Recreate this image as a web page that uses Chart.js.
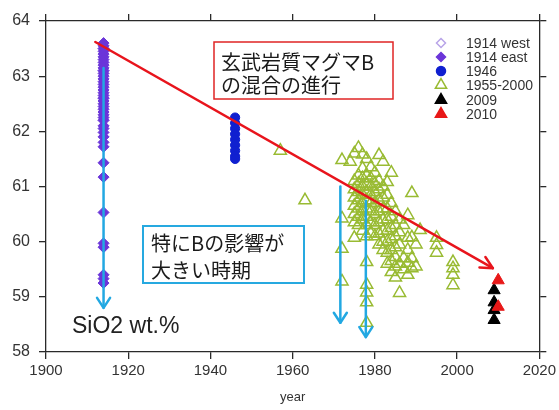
<!DOCTYPE html>
<html>
<head>
<meta charset="utf-8">
<script src="https://cdn.jsdelivr.net/npm/chart.js@4.4.1/dist/chart.umd.min.js"></script>
<style>
  html, body { margin: 0; padding: 0; background: #fff; }
  #wrap { width: 559px; height: 410px; }
</style>
</head>
<body>
<div id="wrap"><canvas id="sio2Chart"></canvas></div>
<script>
// SiO2 wt.% by eruption year
const west1914 = [63.5, 63.1, 62.6, 62.2];
const east1914 = [63.6, 63.55, 63.5, 63.45, 63.4, 63.35, 63.3, 63.25, 63.2, 63.15, 63.1, 63.05,
  63.0, 62.95, 62.9, 62.85, 62.8, 62.75, 62.7, 62.65, 62.6, 62.55, 62.5, 62.45, 62.4, 62.35,
  62.3, 62.25, 62.2, 62.1, 62.05, 61.98, 61.9, 61.8, 61.72, 61.43, 61.17, 60.53, 59.97, 59.9,
  59.4, 59.33, 59.25];
const sio2_1946 = [62.25, 62.15, 62.05, 61.95, 61.85, 61.75, 61.65, 61.55, 61.5];
const pts1955_2000 = [
  [1957, 61.65], [1963, 60.75],
  [1972, 61.48], [1972, 60.42], [1972, 59.87], [1972, 59.28], [1975, 60.07],
  [1978, 59.63], [1978, 59.22], [1978, 59.08], [1978, 58.9], [1978, 58.53],
  [1974, 61.45], [1975, 61.6], [1976, 61.7], [1977, 61.58], [1978, 61.5], [1979, 61.35],
  [1981, 61.57], [1982, 61.45], [1984, 61.25], [1983, 61.08], [1977, 61.33], [1976, 61.2],
  [1975, 61.1], [1975, 60.95], [1975, 60.8], [1975, 60.65], [1975, 60.5], [1975, 60.35],
  [1976, 61.05], [1976, 60.9], [1976, 60.75], [1976, 60.6], [1976, 60.45], [1976, 60.3],
  [1977, 61.15], [1977, 61.0], [1977, 60.85], [1977, 60.7], [1977, 60.55], [1977, 60.4], [1977, 60.2],
  [1978, 61.2], [1978, 61.05], [1978, 60.9], [1978, 60.75], [1978, 60.6], [1978, 60.45], [1978, 60.3], [1978, 60.1],
  [1979, 61.15], [1979, 61.0], [1979, 60.85], [1979, 60.7], [1979, 60.55], [1979, 60.35], [1979, 60.15],
  [1980, 61.25], [1980, 61.05], [1980, 60.9], [1980, 60.7], [1980, 60.5], [1980, 60.3], [1980, 60.1],
  [1981, 61.1], [1981, 60.95], [1981, 60.75], [1981, 60.55], [1981, 60.35], [1981, 60.15], [1981, 59.95],
  [1982, 61.0], [1982, 60.8], [1982, 60.6], [1982, 60.4], [1982, 60.2], [1982, 60.0], [1982, 59.85],
  [1983, 60.85], [1983, 60.6], [1983, 60.4], [1983, 60.2], [1983, 60.0], [1983, 59.8], [1983, 59.6],
  [1984, 60.7], [1984, 60.45], [1984, 60.25], [1984, 60.05], [1984, 59.85], [1984, 59.65], [1984, 59.45],
  [1985, 60.55], [1985, 60.3], [1985, 60.1], [1985, 59.9], [1985, 59.72], [1985, 59.55], [1985, 59.35],
  [1986, 60.4], [1986, 60.17], [1986, 59.95], [1986, 59.6], [1986, 59.07],
  [1987, 60.3], [1987, 59.7], [1987, 59.5],
  [1988, 60.48], [1988, 60.07], [1988, 59.85], [1988, 59.62], [1988, 59.4],
  [1989, 60.88], [1989, 60.08], [1989, 59.7], [1989, 59.52],
  [1990, 59.95], [1990, 59.55], [1991, 60.21],
  [1995, 60.07], [1995, 59.94], [1995, 59.8],
  [1999, 59.63], [1999, 59.52], [1999, 59.4], [1999, 59.21]
];
const sio2_2009 = [59.12, 58.9, 58.76, 58.58];
const sio2_2010 = [59.3, 58.82];

const xTicks = [1900, 1920, 1940, 1960, 1980, 2000, 2020];
const yTicks = [58, 59, 60, 61, 62, 63, 64];

// arrows in data units: [start, end]
const mixingArrow = [[1912, 63.62], [2008.7, 59.52]];
const impactArrows = [
  [[1914, 63.15], [1914, 58.8]],
  [[1971.6, 61.0], [1971.6, 58.53]],
  [[1977.8, 60.74], [1977.8, 58.27]]
];

const legendItems = [
  { label: '1914 west', style: 'diamond', fill: null, stroke: '#b8a4e8', r: 4.5 },
  { label: '1914 east', style: 'diamond', fill: '#6b35d9', stroke: '#6b35d9', r: 4.5 },
  { label: '1946', style: 'circle', fill: '#1020d0', stroke: '#1020d0', r: 4.5 },
  { label: '1955-2000', style: 'triangle', fill: null, stroke: '#99bb33', r: 6.5 },
  { label: '2009', style: 'triangle', fill: '#000', stroke: '#000', r: 6.5 },
  { label: '2010', style: 'triangle', fill: '#e81818', stroke: '#e81818', r: 6.5 }
];

const axisColor = '#2a2a2a';
const textFont = '"Liberation Sans", Arial, sans-serif';
const cjkFont = '"Noto Sans CJK JP", sans-serif';

function at(year, values) {
  return values.map(v => ({ x: year, y: v }));
}

function drawMarker(ctx, item, x, y) {
  const r = item.r;
  ctx.beginPath();
  if (item.style === 'diamond') {
    ctx.moveTo(x, y - r); ctx.lineTo(x + r, y); ctx.lineTo(x, y + r); ctx.lineTo(x - r, y);
    ctx.closePath();
  } else if (item.style === 'circle') {
    ctx.arc(x, y, r, 0, Math.PI * 2);
  } else {
    ctx.moveTo(x, y - r);
    ctx.lineTo(x + Math.sin(2 * Math.PI / 3) * r, y + r / 2);
    ctx.lineTo(x - Math.sin(2 * Math.PI / 3) * r, y + r / 2);
    ctx.closePath();
  }
  if (item.fill) { ctx.fillStyle = item.fill; ctx.fill(); }
  ctx.lineWidth = 1.5;
  ctx.strokeStyle = item.stroke;
  ctx.stroke();
}

function drawArrow(ctx, x1, y1, x2, y2, color, width, headLen, headHalf) {
  ctx.save();
  ctx.strokeStyle = color;
  ctx.lineWidth = width;
  ctx.lineCap = 'round';
  ctx.lineJoin = 'round';
  ctx.beginPath();
  ctx.moveTo(x1, y1);
  ctx.lineTo(x2, y2);
  ctx.stroke();
  const a = Math.atan2(y2 - y1, x2 - x1);
  const bx = x2 - headLen * Math.cos(a), by = y2 - headLen * Math.sin(a);
  ctx.beginPath();
  ctx.moveTo(bx + headHalf * Math.sin(a), by - headHalf * Math.cos(a));
  ctx.lineTo(x2, y2);
  ctx.lineTo(bx - headHalf * Math.sin(a), by + headHalf * Math.cos(a));
  ctx.stroke();
  ctx.restore();
}

function textBox(ctx, lines, left, top, w, h, color, lw, tx, ty, lineGap) {
  ctx.save();
  ctx.fillStyle = '#fff';
  ctx.fillRect(left, top, w, h);
  ctx.strokeStyle = color;
  ctx.lineWidth = lw;
  ctx.strokeRect(left, top, w, h);
  ctx.fillStyle = '#1a1a1a';
  ctx.font = '20px ' + cjkFont;
  ctx.textBaseline = 'middle';
  ctx.textAlign = 'left';
  lines.forEach((t, i) => ctx.fillText(t, tx, ty + i * lineGap));
  ctx.restore();
}

const overlayPlugin = {
  id: 'overlay',
  afterDatasetsDraw(chart) {
    const ctx = chart.ctx;
    const xs = chart.scales.x, ys = chart.scales.y;
    const px = p => [xs.getPixelForValue(p[0]), ys.getPixelForValue(p[1])];
    impactArrows.forEach(a => {
      const s = px(a[0]), e = px(a[1]);
      drawArrow(ctx, s[0], s[1], e[0], e[1], '#22a8e2', 2.5, 10, 6.5);
    });
    const s = px(mixingArrow[0]), e = px(mixingArrow[1]);
    drawArrow(ctx, s[0], s[1], e[0], e[1], '#e8141c', 2.5, 12, 6);
  },
  afterDraw(chart) {
    const ctx = chart.ctx;
    textBox(ctx, ['玄武岩質マグマB', 'の混合の進行'], 214, 42, 179, 57, '#e02424', 1.5, 221, 62, 23);
    textBox(ctx, ['特にBの影響が', '大きい時期'], 143, 226, 161, 57, '#26a9e0', 2, 151, 243, 27);

    ctx.save();
    ctx.fillStyle = '#222';
    ctx.font = '23px ' + textFont;
    ctx.textBaseline = 'middle';
    ctx.fillText('SiO2 wt.%', 72, 327);

    const rowY = [43, 57, 71, 85, 100, 114];
    ctx.font = '14px ' + textFont;
    legendItems.forEach((item, i) => {
      drawMarker(ctx, item, 441, rowY[i]);
      ctx.fillStyle = '#333';
      ctx.fillText(item.label, 466, rowY[i] + 1);
    });
    ctx.restore();
  }
};

const tickGrid = { display: true, drawOnChartArea: false, drawTicks: true, tickLength: 7, color: axisColor, lineWidth: 1.3 };
const axisBorder = { display: true, color: axisColor, width: 1.3 };

new Chart(document.getElementById('sio2Chart'), {
  type: 'scatter',
  data: {
    datasets: [
      { label: '1914 west', data: at(1914, west1914), pointStyle: 'rectRot', pointRadius: 5.5,
        backgroundColor: 'rgba(0,0,0,0)', borderColor: '#b8a4e8', borderWidth: 1.2, order: 6 },
      { label: '1914 east', data: at(1914, east1914), pointStyle: 'rectRot', pointRadius: 5.5,
        backgroundColor: '#6b35d9', borderColor: '#6b35d9', borderWidth: 1, order: 5 },
      { label: '1946', data: at(1946, sio2_1946), pointStyle: 'circle', pointRadius: 4.6,
        backgroundColor: '#1020d0', borderColor: '#1020d0', borderWidth: 1, order: 4 },
      { label: '1955-2000', data: pts1955_2000.map(p => ({ x: p[0], y: p[1] })), pointStyle: 'triangle',
        pointRadius: 7, backgroundColor: 'rgba(0,0,0,0)', borderColor: '#99bb33', borderWidth: 1.5, order: 3 },
      { label: '2009', data: at(2009, sio2_2009), pointStyle: 'triangle', pointRadius: 7,
        backgroundColor: '#000', borderColor: '#000', borderWidth: 1, order: 2 },
      { label: '2010', data: at(2010, sio2_2010), pointStyle: 'triangle', pointRadius: 7,
        backgroundColor: '#e81818', borderColor: '#e81818', borderWidth: 1, order: 1 }
    ]
  },
  options: {
    responsive: true,
    maintainAspectRatio: false,
    animation: false,
    layout: { padding: 0 },
    plugins: { legend: { display: false }, tooltip: { enabled: false } },
    scales: {
      x: {
        type: 'linear', position: 'bottom', min: 1900, max: 2020,
        afterBuildTicks: s => { s.ticks = xTicks.map(v => ({ value: v })); },
        ticks: { color: '#333', font: { family: textFont, size: 15 }, padding: 3, callback: v => String(v) },
        grid: tickGrid, border: axisBorder,
        title: { display: true, text: 'year', color: '#333', font: { family: textFont, size: 13 }, padding: { top: 5, bottom: 5 } },
        afterFit: s => { s.height = 58; }
      },
      x2: {
        type: 'linear', position: 'top', min: 1900, max: 2020,
        afterBuildTicks: s => { s.ticks = xTicks.map(v => ({ value: v })); },
        ticks: { display: false },
        grid: tickGrid, border: axisBorder,
        afterFit: s => { s.height = 21; }
      },
      y: {
        type: 'linear', position: 'left', min: 58, max: 64,
        afterBuildTicks: s => { s.ticks = yTicks.map(v => ({ value: v })); },
        ticks: { color: '#333', font: { family: textFont, size: 16 }, padding: 9, callback: v => String(v) },
        grid: tickGrid, border: axisBorder,
        afterFit: s => { s.width = 46; }
      },
      y2: {
        type: 'linear', position: 'right', min: 58, max: 64,
        afterBuildTicks: s => { s.ticks = yTicks.map(v => ({ value: v })); },
        ticks: { display: false },
        grid: tickGrid, border: axisBorder,
        afterFit: s => { s.width = 16; }
      }
    }
  },
  plugins: [overlayPlugin]
});
</script>
</body>
</html>
